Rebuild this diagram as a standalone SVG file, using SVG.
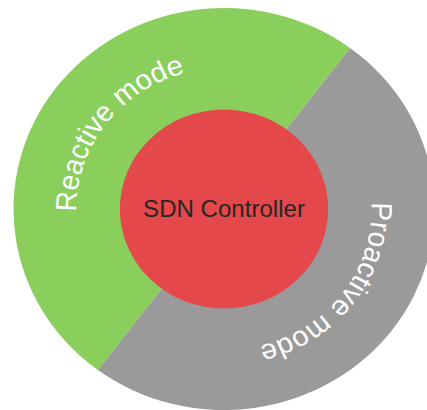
<svg xmlns="http://www.w3.org/2000/svg" xmlns:xlink="http://www.w3.org/1999/xlink" width="427" height="410" viewBox="0 0 427 410">
  <style>
    .ring-label { font-family: "Liberation Sans", Arial, sans-serif; font-size: 28px; fill: #ffffff; }
    .core-label { font-family: "Liberation Sans", Arial, sans-serif; font-size: 23px; fill: #262626; }
  </style>
  <defs>
    <!-- text baselines, running clockwise around each half of the ring -->
    <path id="arc-reactive" d="M-84.5,112.9 A141,141 0 0 1 84.5,-112.9"/>
    <path id="arc-proactive" d="M84.5,-112.9 A141,141 0 0 1 -84.5,112.9"/>
  </defs>
  <rect width="427" height="410" fill="#ffffff"/>
  <!-- whole drawing is slightly wider than tall -->
  <g transform="translate(224,209) scale(1.047,1)">
    <g id="reactive-mode">
      <path d="M120.4,-161 A201,201 0 0 0 -120.4,161 Z" fill="#8ACF5C"/>
      <text class="ring-label"><textPath xlink:href="#arc-reactive" href="#arc-reactive" startOffset="50%" text-anchor="middle">Reactive mode</textPath></text>
    </g>
    <g id="proactive-mode">
      <path d="M-120.4,161 A201,201 0 0 0 120.4,-161 Z" fill="#9A9A9A"/>
      <text class="ring-label"><textPath xlink:href="#arc-proactive" href="#arc-proactive" startOffset="50%" text-anchor="middle">Proactive mode</textPath></text>
    </g>
    <g id="sdn-controller">
      <circle cx="0" cy="0" r="99.5" fill="#E4484B"/>
      <text class="core-label" x="0" y="8" text-anchor="middle">SDN Controller</text>
    </g>
  </g>
</svg>
